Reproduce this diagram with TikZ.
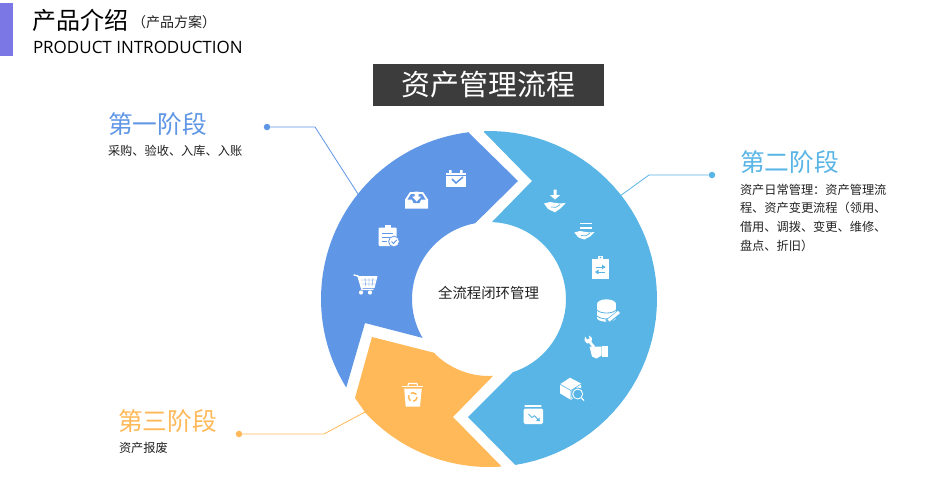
\documentclass[tikz,border=0pt]{standalone}
\usepackage{fontspec}
\setmainfont{Noto Sans CJK SC}
\newfontfamily\latinfont{Open Sans}
\definecolor{stageA}{HTML}{5F96E6}
\definecolor{stageB}{HTML}{58B5E5}
\definecolor{stageC}{HTML}{FFB958}
\definecolor{barcol}{HTML}{7B78E6}
\definecolor{titlebg}{HTML}{3C3C3C}
\definecolor{bodytxt}{HTML}{222222}
\newcommand{\px}[1]{\fontsize{#1}{#1}\selectfont}
\tikzset{
  txt/.style={anchor=west,inner sep=0pt,outer sep=0pt},
  body/.style={txt,text=bodytxt,align=left,font=\fontsize{12.2}{18.7}\selectfont},
  head/.style={txt,font=\px{24.7}},
  lead/.style={line width=0.8pt,line join=round},
  leaddot/.style={circle,inner sep=0pt,minimum size=6.5pt},
  ic/.style={fill=white,draw=none},
  icl/.style={draw=white,line width=1.4pt,line cap=round,line join=round},
  rng/.style={samples=50},
}
\begin{document}
\begin{tikzpicture}[x=1pt,y=-1pt]
\useasboundingbox (0,0) rectangle (950,490);
\fill[white] (0,0) rectangle (950,490);
% header
\fill[barcol] (0,3) rectangle (13,56);
\node[txt,font=\px{24}] (hcn) at (32,20) {产品介绍};
\node[txt,font=\px{14},text=bodytxt] (hsub) at (132,22) {（产品方案）};
\node[txt,font=\latinfont\px{17}] (hen) at (33,47.5) {PRODUCT INTRODUCTION};
\node[fill=titlebg,text=white,font=\px{28.9},minimum width=231pt,minimum height=42pt,inner sep=0pt] (ttl) at (488.5,85) {\raisebox{-0.8pt}{资产管理流程}};
% ring segments
\fill[stageA] (518,181) -- (469,133) -- plot[rng,domain=263.1:148.2] ({489+168*cos(\x)},{299+168*sin(\x)}) -- (365,323) -- (423,338) -- plot[rng,domain=149.4:259.6] ({489+77*cos(\x)},{299+77*sin(\x)}) -- cycle;
\fill[stageB] (532,181) -- (484,132) -- plot[rng,domain=-91.7:81] ({489+168*cos(\x)},{299+168*sin(\x)}) -- (468,417) -- (513,372) -- plot[rng,domain=71.8:-87.8] ({489+77*cos(\x)},{299+77*sin(\x)}) -- cycle;
\fill[stageC] (372,337) -- (435,353) -- plot[rng,domain=135:87] ({489+77*cos(\x)},{299+77*sin(\x)}) -- (453,417) -- (501,466) -- plot[rng,domain=85.9:137.4] ({489+168*cos(\x)},{299+168*sin(\x)}) -- (355,398) -- cycle;
\node[font=\px{14.4},text=bodytxt,inner sep=0pt] (hub) at (488.5,293) {全流程闭环管理};
% labels
\node[head,text=stageA] (s1) at (108,124) {第一阶段};
\node[body] (s1t) at (108,150.5) {采购、验收、入库、入账};
\node[head,text=stageB] (s2) at (740,162) {第二阶段};
\node[body] (s2t) at (740,217.5) {资产日常管理：资产管理流\\程、资产变更流程（领用、\\借用、调拨、变更、维修、\\盘点、折旧）};
\node[head,text=stageC] (s3) at (118,421) {第三阶段};
\node[body] (s3t) at (119,448) {资产报废};
% leaders
\node[leaddot,fill=stageA] (d1) at (267,127) {};
\coordinate (k1) at (315,127); \coordinate (e1) at (358,194);
\draw[lead,stageA] (d1) -- (k1) -- (e1);
\node[leaddot,fill=stageB] (d2) at (712,175) {};
\coordinate (k2) at (649,175); \coordinate (e2) at (620,196);
\draw[lead,stageB] (d2) -- (k2) -- (e2);
\node[leaddot,fill=stageC] (d3) at (239,434) {};
\coordinate (k3) at (324,434); \coordinate (e3) at (365,412);
\draw[lead,stageC] (d3) -- (k3) -- (e3);
% cart
\draw[icl] (354,275) -- (358,276) -- (362,289.5) -- (373,289.5);
\fill[ic] (358.5,276) -- (377.5,276) -- (374.5,288) -- (361,288) -- cycle;
\draw[stageA,line width=0.4pt] (361,280) -- (375.5,280) (361.5,284) -- (375,284) (365,278) -- (365.5,286) (369,278) -- (369,286) (373,278) -- (372,286);
\fill[ic] (361,292.5) circle (2.1) (370,292.5) circle (2.1);
% clipboard check
\fill[ic,rounded corners=1pt] (378.5,227.5) rectangle (396.5,246);
\fill[ic] (384.5,225) rectangle (390.5,229);
\draw[stageA,line width=0.9pt] (382,233) -- (393,233) (382,237) -- (393,237) (382,241) -- (387,241);
\fill[ic,draw=stageA,line width=0.8pt] (394,241.5) circle (5.4);
\draw[stageA,line width=0.9pt] (391.5,241.5) -- (393.5,243.5) -- (396.8,239.8);
% inbox
\fill[ic] (405,199.5) -- (410,192) -- (423,192) -- (428,199.5) -- (428,208.5) -- (405,208.5) -- cycle;
\fill[stageA] (407.5,199.5) -- (411,194) -- (422,194) -- (425.5,199.5) -- (421,199.5) -- (419.5,203) -- (413.5,203) -- (412,199.5) -- cycle;
\fill[ic] (414.7,191.5) rectangle (418.7,196.5) (412,196.5) -- (421.4,196.5) -- (416.7,201.5) -- cycle;
% calendar
\fill[ic] (446,172.5) rectangle (465.7,187);
\fill[ic] (449,170) rectangle (451.5,174) (460,170) rectangle (462.5,174);
\draw[stageA,line width=0.6pt] (446,175.6) -- (465.7,175.6);
\draw[stageA,line width=1.5pt] (452,179) -- (456,183) -- (463,177);
% hand 1
\fill[ic] (553.5,189.5) rectangle (556.5,195) (549.8,195) -- (560.2,195) -- (555,199.5) -- cycle;
\fill[ic] (544,203.5) -- (550,202) -- (556,203) -- (560,203.5) -- (565.7,203) -- (561,208) -- (555,212.3) -- (548,209) -- cycle;
\draw[stageB,line width=0.7pt] (551,207) -- (556,207.3) -- (560,204.5);
% hand 2
\draw[icl,line width=1.5pt,line cap=butt] (580,223.5) -- (591.5,223.5) (580,228) -- (591.5,228);
\fill[ic] (574.3,232.5) -- (580,231) -- (586,232) -- (590,232.5) -- (594.5,232) -- (590,236.5) -- (584.3,239.5) -- (578.5,237.5) -- cycle;
\draw[stageB,line width=0.7pt] (581,235.5) -- (586,235.8) -- (590,233.2);
% clipboard swap
\fill[ic] (592.3,259.3) rectangle (608.7,279.3);
\fill[ic] (598.3,256) rectangle (602.7,260);
\fill[stageB] (600.5,257.5) circle (0.8);
\draw[stageB,line width=0.8pt] (595.5,267) -- (605,267) (595.5,272) -- (605,272);
\fill[stageB] (605.5,267) -- (602,264.6) -- (602,269.4) -- cycle (595,272) -- (598.5,269.6) -- (598.5,274.4) -- cycle;
% database + pencil
\fill[ic] (597,304) rectangle (616,318);
\fill[ic] (606.5,318) ellipse [x radius=9.5,y radius=3.7];
\fill[ic] (606.5,304) ellipse [x radius=9.5,y radius=4.7];
\draw[stageB,line width=0.8pt] (597,310) .. controls (600,314) and (613,314) .. (616,310) (597,316) .. controls (600,319.5) and (610,319.5) .. (612,318);
\draw[stageB,line width=5pt] (607,322) -- (621,311);
\draw[white,line width=3pt] (608.5,320.5) -- (619,312);
% wrench + fist
\draw[white,line width=2.6pt] (588,340) -- (594,347);
\fill[ic] (585,336.5) -- (587,339.5) -- (589.5,338.5) -- (589,335.5) -- (592,338) -- (591.5,342) -- (587,343.5) -- (584.5,340.5) -- cycle;
\fill[ic] (589.5,346.5) -- (601.6,346.5) -- (601.6,355.5) -- (596.5,358.5) -- (592,356.5) -- cycle;
\fill[ic] (602.3,346) rectangle (607.5,356.8);
% box + magnifier
\fill[ic] (570,377.7) -- (581,383.5) -- (581,390) -- (571,400) -- (560,393.3) -- (560,384.3) -- cycle;
\draw[stageB,line width=0.6pt] (560,384.3) -- (571,390.5) -- (581,384) (571,390.5) -- (571,400);
\fill[stageB] (577.7,394) circle (6.5);
\draw[white,line width=0.9pt] (577.7,394) circle (5);
\draw[white,line width=1.2pt] (581.5,398) -- (584,400.5);
% wallet
\draw[icl,line width=1.3pt] (525,406) -- (541,406);
\fill[ic,rounded corners=1.5pt] (523.7,408.5) rectangle (543,424);
\draw[stageB,line width=0.9pt] (528.5,414) -- (532,417.5) -- (534.5,415.8) -- (538.5,420);
\fill[stageB] (536,420.8) -- (539.8,421.2) -- (539.5,417.5) -- cycle;
% recycle bin
\draw[icl,line width=1.2pt,line cap=butt] (401.7,386.8) -- (423.3,386.8);
\draw[icl,line width=1.1pt] (408,386) -- (408.5,383.5) -- (417,383.5) -- (417.5,386);
\fill[ic] (404.2,388.5) -- (421.8,388.5) -- (420,406.7) -- (405.7,406.7) -- cycle;
\draw[stageC,line width=1.5pt,dash pattern=on 6.2pt off 2.6pt] (412.8,397) circle (4.3);
\end{tikzpicture}
\end{document}
